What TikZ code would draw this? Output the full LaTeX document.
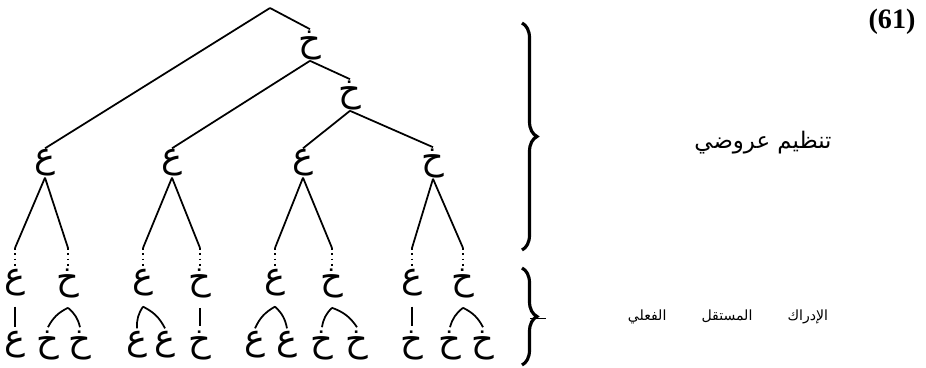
\documentclass[tikz,border=0pt]{standalone}
\usepackage{fontspec}
\newfontfamily\arabicfont[Script=Arabic]{DejaVu Sans}
\newfontfamily\numfont{Liberation Serif}
\TeXXeTstate=1
\usetikzlibrary{decorations.pathreplacing,calc}

\tikzset{
  letter/.style={font=\arabicfont\fontsize{20}{24}\selectfont, inner sep=0.5pt},
  branch/.style={line width=1pt},
  dotbit/.style={line width=1pt, dotted},
  bigbrace/.style={decorate, decoration={brace, amplitude=0.3cm}, line width=1.8pt},
}

\begin{document}
\begin{tikzpicture}[x=0.02cm, y=-0.02cm]
\useasboundingbox (0,0) rectangle (926,368);

% upper part of the tree
\coordinate (top) at (270,8);
\node[letter] (k1) at (310,45) {خ};
\node[letter] (k2) at (350,95) {خ};
\node[letter] (n1) at (45,163) {ع};
\node[letter] (n2) at (172,163) {ع};
\node[letter] (n3) at (303,163) {ع};
\node[letter] (n4) at (433,163) {خ};

\draw[branch] (top) -- (n1.north);
\draw[branch] (top) -- (k1.north);
\draw[branch] (k1.south) -- (n2.north);
\draw[branch] (k1.south) -- (k2.north);
\draw[branch] (k2.south) -- (n3.north);
\draw[branch] (k2.south) -- (n4.north);

% middle row
\node[letter] (p11) at (15,283) {ع};
\node[letter] (p12) at (68,283) {خ};
\node[letter] (p21) at (143,283) {ع};
\node[letter] (p22) at (200,283) {خ};
\node[letter] (p31) at (275,283) {ع};
\node[letter] (p32) at (332,283) {خ};
\node[letter] (p41) at (412,283) {ع};
\node[letter] (p42) at (463,283) {خ};

\coordinate (cut) at (0,248);
\foreach \a/\b in {n1/p11,n1/p12,n2/p21,n2/p22,n3/p31,n3/p32,n4/p41,n4/p42} {
  \draw[branch] (\a.south) -- (\b.north |- cut);
  \draw[dotbit] (\b.north |- cut) -- (\b.north);
}

% bottom row
\node[letter] (q111) at (15,345) {ع};
\node[letter] (q121) at (48,345) {خ};
\node[letter] (q122) at (80,345) {خ};
\node[letter] (q211) at (137,345) {ع};
\node[letter] (q212) at (165,345) {ع};
\node[letter] (q221) at (200,345) {خ};
\node[letter] (q311) at (255,345) {ع};
\node[letter] (q312) at (287,345) {ع};
\node[letter] (q321) at (322,345) {خ};
\node[letter] (q322) at (357,345) {خ};
\node[letter] (q411) at (412,345) {خ};
\node[letter] (q421) at (450,345) {خ};
\node[letter] (q422) at (483,345) {خ};

% single children
\foreach \a/\b in {p11/q111,p22/q221,p41/q411}
  \draw[branch] ($(\a.south)+(0,9)$) -- ($(\b.north)+(0,-3)$);
% pairs
\foreach \a/\l/\r in {p12/q121/q122,p21/q211/q212,p31/q311/q312,p32/q321/q322,p42/q421/q422} {
  \coordinate (cap) at ($(\a.south)+(0,9)$);
  \draw[branch] (cap) to[bend right=18] ($(\l.north)+(0,-2)$);
  \draw[branch] (cap) to[bend left=18] ($(\r.north)+(0,-2)$);
}

% braces and labels
\draw[bigbrace] (522,23) -- (522,250);
\draw[bigbrace] (522,268) -- (522,365);
\draw[line width=0.5pt] (530,318) -- (546,318);

\node[font=\numfont\bfseries\fontsize{16}{19}\selectfont] (num) at (892,22) {(61)};
\node[font=\arabicfont\fontsize{13}{16}\selectfont] (upper) at (763,143) {\beginR تنظيم عروضي\endR};
\node[font=\arabicfont\fontsize{8}{10}\selectfont] (lower) at (728,317) {\beginR الإدراك\hspace{2.5em}المستقل\hspace{2.5em}الفعلي\endR};
\end{tikzpicture}
\end{document}
